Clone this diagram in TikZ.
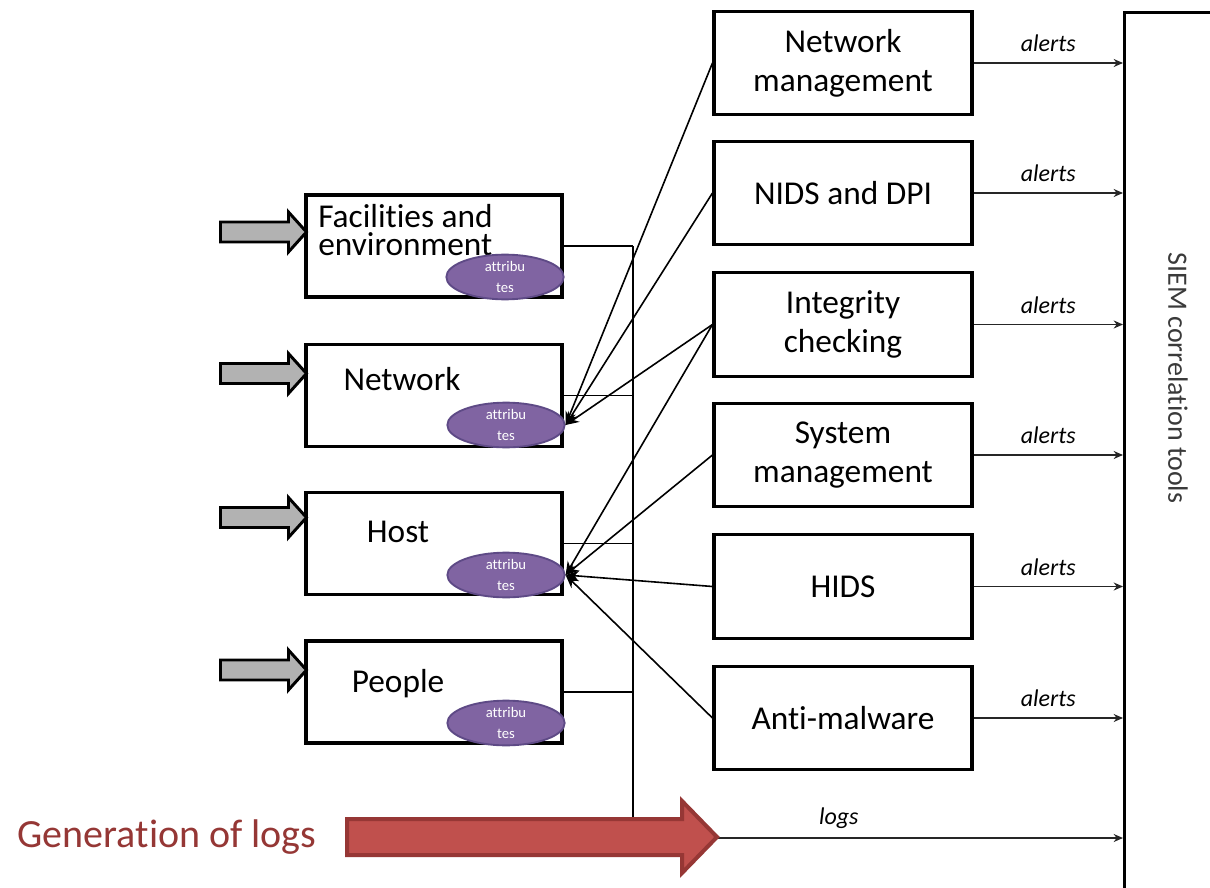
\documentclass[tikz,border=0pt]{standalone}
\usepackage{fontspec}
\setmainfont{Carlito}[Ligatures=CommonOff]
\usetikzlibrary{arrows.meta,calc,shapes.geometric}

\definecolor{attrfill}{HTML}{8064A2}
\definecolor{attrline}{HTML}{5E4A86}
\definecolor{logred}{HTML}{C0504D}
\definecolor{logredline}{HTML}{963735}
\definecolor{logtext}{HTML}{953735}
\definecolor{siemtext}{HTML}{3A3A3A}

% block arrow pointing right, tip at #1
\newcommand{\inputarrow}[1]{%
  \draw[inarrow] (#1) -- ++(-18,-20) -- ++(0,10) -- ++(-68,0) -- ++(0,20)
    -- ++(68,0) -- ++(0,10) -- cycle;}

\begin{document}
\begin{tikzpicture}[x=0.75pt,y=-0.75pt,
  box/.style={draw=black, line width=2.3pt, fill=white, minimum width=192pt,
    minimum height=76.5pt, inner sep=0pt},
  tool/.style={box, minimum width=193.5pt, minimum height=77.5pt, align=center,
    font=\fontsize{25}{29}\selectfont},
  boxtext/.style={inner sep=0pt, font=\fontsize{25}{20}\selectfont,
    text height=0.7em, text depth=0.2em},
  boxtexttwo/.style={inner sep=0pt, font=\fontsize{25}{21.5}\selectfont, align=left},
  attr/.style={ellipse, draw=attrline, line width=1.4pt, fill=attrfill,
    minimum width=88pt, minimum height=33pt, inner sep=0pt, text=white,
    align=center, font=\fontsize{11}{16}\selectfont},
  wire/.style={draw=black, line width=1.2pt},
  bus/.style={draw=black, line width=1.6pt},
  feed/.style={wire, -{Stealth[length=10pt,width=8pt]}},
  alert/.style={draw=black!85, line width=1.2pt, -{Stealth[length=7pt,width=6pt]}},
  tag/.style={font=\fontsize{18}{20}\selectfont\itshape, inner sep=0pt},
  inarrow/.style={draw=black, line width=2.2pt, fill=gray!60, line join=miter},
  logarrow/.style={draw=logredline, line width=3pt, fill=logred, line join=miter},
]
\useasboundingbox (0,0) rectangle (1210,888);
\clip (0,0) rectangle (1210,888);

% correlation stage on the right
\node[draw=black, line width=2.6pt, minimum width=82.5pt, minimum height=658.5pt,
  inner sep=0pt, anchor=north west] (siem) at (1123,11) {};
\node[rotate=-90, font=\fontsize{21}{24}\selectfont, text=siemtext] (siemlabel)
  at (1178,378) {SIEM correlation tools};

% monitoring tools
\node[tool] (nm)    at (843,63)    {Network\\management};
\node[tool] (nids)  at (843,193)   {NIDS and DPI};
\node[tool] (integ) at (843,324.5) {Integrity\\checking};
\node[tool] (sysm)  at (843,455)   {System\\management};
\node[tool] (hids)  at (843,586.5) {HIDS};
\node[tool] (amal)  at (843,718)   {Anti-malware};

% monitored sources
\node[box] (fac)  at (434,246)   {};
\node[box] (net)  at (434,395.5) {};
\node[box] (host) at (434,543.5) {};
\node[box] (ppl)  at (434,692)   {};

\node[boxtexttwo, anchor=west] (fac-t) at (318,230) {Facilities and\\environment};
\node[boxtext] (net-t)  at (402,387) {Network};
\node[boxtext] (host-t) at (398,539) {Host};
\node[boxtext] (ppl-t)  at (398,689) {People};

\node[attr] (fac-a)  at (505,277) {attribu\\tes};
\node[attr] (net-a)  at (506,425) {attribu\\tes};
\node[attr] (host-a) at (506,575) {attribu\\tes};
\node[attr] (ppl-a)  at (506,723) {attribu\\tes};

% incoming block arrows
\coordinate (fac-in)  at ($(fac.west)+(2,-14)$);
\coordinate (net-in)  at ($(net.west)+(2,-22)$);
\coordinate (host-in) at ($(host.west)+(2,-26)$);
\coordinate (ppl-in)  at ($(ppl.west)+(2,-22)$);
\inputarrow{fac-in}
\inputarrow{net-in}
\inputarrow{host-in}
\inputarrow{ppl-in}

% log bus
\coordinate (bus) at (633,0);
\coordinate (busbot) at (633,838);
\draw[wire] (fac.east) -- (fac.east -| bus);
\draw[wire] (net.east) -- (net.east -| bus);
\draw[wire] (host.east) -- (host.east -| bus);
\draw[wire] (ppl.east) -- (ppl.east -| bus);
\draw[bus] (fac.east -| bus) -- (busbot);
\draw[alert] (busbot) -- node[tag, pos=0.42, yshift=15pt] (logs) {logs} (busbot -| siem.west);

% tools feeding attributes
\draw[feed] (nm.west)    -- (net-a.east);
\draw[feed] (nids.west)  -- (net-a.east);
\draw[feed] (integ.west) -- (net-a.east);
\draw[feed] (integ.west) -- (host-a.east);
\draw[feed] (sysm.west)  -- (host-a.east);
\draw[feed] (hids.west)  -- (host-a.east);
\draw[feed] (amal.west)  -- (host-a.east);

% alerts into the correlation stage
\foreach \t in {nm,nids,integ,sysm,hids,amal}
  \draw[alert] (\t.east) -- node[tag, pos=0.5, yshift=14.5pt] {alerts} (\t.east -| siem.west);

% log generation arrow
\draw[logarrow] (717,837) -- (682,801) -- (682,819) -- (347,819) -- (347,855)
  -- (682,855) -- (682,873) -- cycle;
\node[font=\fontsize{30}{36}\selectfont, text=logtext, inner sep=0pt] (gen)
  at (167,837) {Generation of logs};
\end{tikzpicture}
\end{document}
